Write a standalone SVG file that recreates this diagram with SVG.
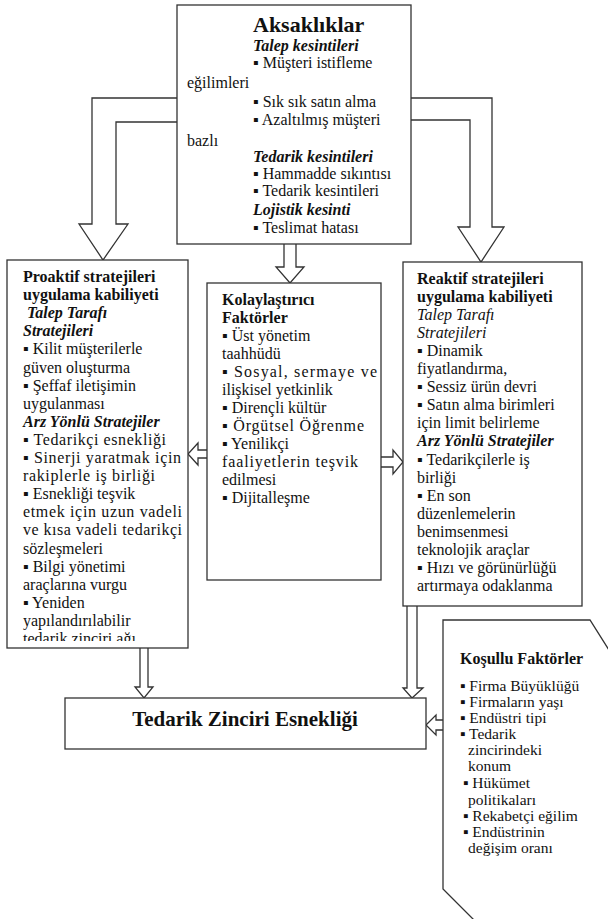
<svg xmlns="http://www.w3.org/2000/svg" width="608" height="919" viewBox="0 0 608 919" font-family="Liberation Serif, serif" font-size="16" fill="#111">
<defs>
<style>
.box{fill:#fff;stroke:#333;stroke-width:1.3}
.arr{fill:#fff;stroke:#333;stroke-width:1.3;stroke-linejoin:miter}
.b{font-weight:bold}
.i{font-style:italic}
.bi{font-weight:bold;font-style:italic}
</style>
<clipPath id="clipP"><rect x="7" y="260" width="181" height="381"/></clipPath>
</defs>
<rect width="608" height="919" fill="#fff"/>

<g id="connectors">
<path class="arr" d="M177,98 L92,98 L92,224 L79,224 L103,260 L128,224 L116,224 L116,122 L177,122"/>
<path class="arr" d="M411,98 L492,98 L492,227 L504,227 L481,262 L458,227 L470,227 L470,120 L411,120"/>
<path class="arr" d="M284,244 L284,267 L276,267 L290,283 L304,267 L296,267 L296,244"/>
<path class="arr" d="M207,450 L198,450 L198,443 L188,454 L198,465 L198,458 L207,458"/>
<path class="arr" d="M381,457 L393,457 L393,450 L403,462 L393,474 L393,467 L381,467"/>
<path class="arr" d="M140,648 L140,687 L135,687 L144,698 L153,687 L148,687 L148,648"/>
<path class="arr" d="M407,606 L407,688 L403,688 L412,698 L423,688 L417,688 L417,606"/>
<path class="arr" d="M443,720 L436,720 L436,715 L426,725 L436,735 L436,730 L443,730"/>
</g>

<g id="aksakliklar">
<rect class="box" x="177" y="5" width="234" height="239"/>
<text class="b" x="253" y="32" font-size="22">Aksaklıklar</text>
<text class="bi" x="253" y="51">Talep kesintileri</text>
<text x="253" y="68">▪ Müşteri istifleme</text>
<text x="187" y="88">eğilimleri</text>
<text x="253" y="107">▪ Sık sık satın alma</text>
<text x="253" y="125">▪ Azaltılmış müşteri</text>
<text x="187" y="146">bazlı</text>
<text class="bi" x="253" y="162">Tedarik kesintileri</text>
<text x="253" y="179">▪ Hammadde sıkıntısı</text>
<text x="253" y="196">▪ Tedarik kesintileri</text>
<text class="bi" x="253" y="215">Lojistik kesinti</text>
<text x="253" y="233">▪ Teslimat hatası</text>
</g>

<g id="proaktif">
<rect class="box" x="7" y="260" width="181" height="388"/>
<g clip-path="url(#clipP)">
<text class="b" x="23" y="282">Proaktif stratejileri</text>
<text class="b" x="23" y="300.1">uygulama kabiliyeti</text>
<text class="bi" x="27" y="318.2">Talep Tarafı</text>
<text class="bi" x="23" y="336.3">Stratejileri</text>
<text x="23" y="354.4">▪ Kilit müşterilerle</text>
<text x="23" y="372.5">güven oluşturma</text>
<text x="23" y="390.6">▪ Şeffaf iletişimin</text>
<text x="23" y="408.7">uygulanması</text>
<text class="bi" x="23" y="426.8">Arz Yönlü Stratejiler</text>
<text x="23" y="444.9" textLength="143" lengthAdjust="spacing">▪ Tedarikçi esnekliği</text>
<text x="23" y="463" textLength="158" lengthAdjust="spacing">▪ Sinerji yaratmak için</text>
<text x="23" y="481.1" textLength="132" lengthAdjust="spacing">rakiplerle iş birliği</text>
<text x="23" y="499.2">▪ Esnekliği teşvik</text>
<text x="23" y="517.3" textLength="159" lengthAdjust="spacing">etmek için uzun vadeli</text>
<text x="23" y="535.4" textLength="159" lengthAdjust="spacing">ve kısa vadeli tedarikçi</text>
<text x="23" y="553.5">sözleşmeleri</text>
<text x="23" y="571.6">▪ Bilgi yönetimi</text>
<text x="23" y="589.7">araçlarına vurgu</text>
<text x="23" y="607.8">▪ Yeniden</text>
<text x="23" y="625.9">yapılandırılabilir</text>
<text x="23" y="644">tedarik zinciri ağı</text>
</g>
</g>

<g id="kolaylastirici">
<rect class="box" x="207" y="283" width="174" height="297"/>
<text class="b" x="222" y="305">Kolaylaştırıcı</text>
<text class="b" x="222" y="323">Faktörler</text>
<text x="222" y="341">▪ Üst yönetim</text>
<text x="222" y="359">taahhüdü</text>
<text x="222" y="377" textLength="155" lengthAdjust="spacing">▪ Sosyal, sermaye ve</text>
<text x="222" y="395">ilişkisel yetkinlik</text>
<text x="222" y="413">▪ Dirençli kültür</text>
<text x="222" y="431" textLength="142" lengthAdjust="spacing">▪ Örgütsel Öğrenme</text>
<text x="222" y="449">▪ Yenilikçi</text>
<text x="222" y="467" textLength="136" lengthAdjust="spacing">faaliyetlerin teşvik</text>
<text x="222" y="485">edilmesi</text>
<text x="222" y="503">▪ Dijitalleşme</text>
</g>

<g id="reaktif">
<rect class="box" x="403" y="262" width="179" height="344"/>
<text class="b" x="417" y="283.5">Reaktif stratejileri</text>
<text class="b" x="417" y="301.6">uygulama kabiliyeti</text>
<text class="i" x="417" y="319.7">Talep Tarafı</text>
<text class="i" x="417" y="337.8">Stratejileri</text>
<text x="417" y="355.9">▪ Dinamik</text>
<text x="417" y="374">fiyatlandırma,</text>
<text x="417" y="392.1">▪ Sessiz ürün devri</text>
<text x="417" y="410.2">▪ Satın alma birimleri</text>
<text x="417" y="428.3">için limit belirleme</text>
<text class="bi" x="417" y="446.4">Arz Yönlü Stratejiler</text>
<text x="417" y="464.5">▪ Tedarikçilerle iş</text>
<text x="417" y="482.6">birliği</text>
<text x="417" y="500.7">▪ En son</text>
<text x="417" y="518.8">düzenlemelerin</text>
<text x="417" y="536.9">benimsenmesi</text>
<text x="417" y="555">teknolojik araçlar</text>
<text x="417" y="573.1">▪ Hızı ve görünürlüğü</text>
<text x="417" y="591.2">artırmaya odaklanma</text>
</g>

<g id="tedarik-zinciri">
<rect class="box" x="65" y="698" width="361" height="51"/>
<text class="b" x="245" y="726" text-anchor="middle" font-size="21">Tedarik Zinciri Esnekliği</text>
</g>

<g id="kosullu">
<path class="box" d="M614,658 L590,620 L443,620 L443,889 L478,924"/>
<text class="b" x="460" y="664">Koşullu Faktörler</text>
<g font-size="15.5">
<text x="460" y="691">▪ Firma Büyüklüğü</text>
<text x="460" y="707">▪ Firmaların yaşı</text>
<text x="460" y="723">▪ Endüstri tipi</text>
<text x="460" y="739">▪ Tedarik</text>
<text x="468" y="755">zincirindeki</text>
<text x="468" y="771">konum</text>
<text x="463" y="788">▪ Hükümet</text>
<text x="468" y="805">politikaları</text>
<text x="463" y="821">▪ Rekabetçi eğilim</text>
<text x="463" y="837">▪ Endüstrinin</text>
<text x="468" y="853">değişim oranı</text>
</g>
</g>
</svg>
